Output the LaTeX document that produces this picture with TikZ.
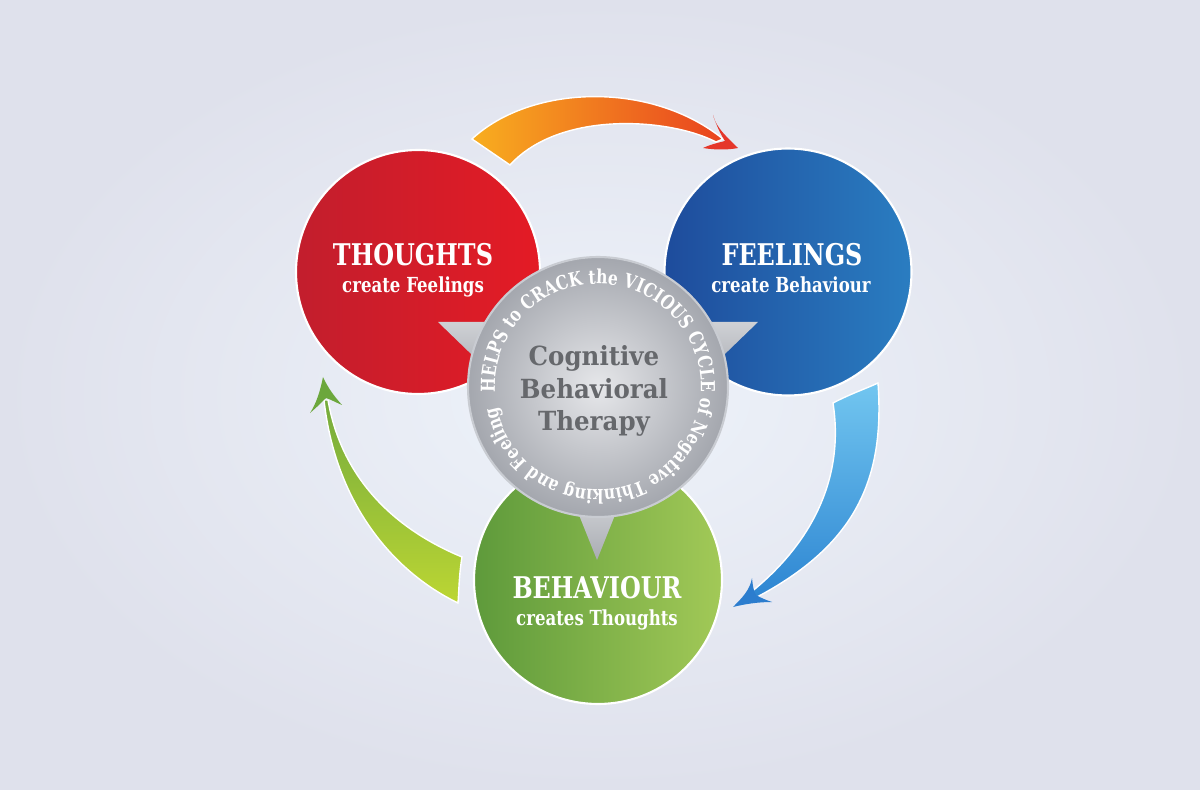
\documentclass[tikz,border=0pt]{standalone}
\usepackage{fontspec}
\setmainfont{DejaVu Serif}
\newfontfamily\headfont[FakeStretch=0.8]{DejaVu Serif}
\newfontfamily\cbtfont[FakeStretch=0.93]{DejaVu Serif}
\usepackage{tikz}
\usetikzlibrary{decorations.text,backgrounds}
\definecolor{bgouter}{HTML}{DFE1EC}
\definecolor{bginner}{HTML}{EEF3FA}
\definecolor{redL}{HTML}{C21E2D}
\definecolor{redR}{HTML}{E41B25}
\definecolor{blueL}{HTML}{1E4C9C}
\definecolor{blueR}{HTML}{2A7DC1}
\definecolor{greenL}{HTML}{5E9A3B}
\definecolor{greenR}{HTML}{A2C957}
\definecolor{grayin}{HTML}{E6E7EA}
\definecolor{grayout}{HTML}{A4A7AE}
\definecolor{grayrim}{HTML}{C9CCD2}
\definecolor{graytext}{HTML}{66686C}
\definecolor{wedgetop}{HTML}{CFD1D5}
\definecolor{wedgebot}{HTML}{A9ACB2}
\definecolor{orangeA}{HTML}{F8AE1F}
\definecolor{orangeB}{HTML}{E9431F}
\definecolor{orangehead}{HTML}{E5362A}
\definecolor{skyA}{HTML}{72C6F0}
\definecolor{skyB}{HTML}{2E86D2}
\definecolor{skyhead}{HTML}{2C7DCE}
\definecolor{limeA}{HTML}{BCD633}
\definecolor{limeB}{HTML}{74AB3D}
\definecolor{limehead}{HTML}{6CA73C}
\newcommand{\rimcolor}{white}
\newcommand{\ringr}{103}

\tikzset{
  bubble/.style={circle, inner sep=0pt, minimum size=#1, draw=\rimcolor, line width=1.2pt},
  headline/.style={text=white, anchor=base, font=\headfont\bfseries\fontsize{17}{19}\selectfont},
  subline/.style={text=white, anchor=base, font=\headfont\bfseries\fontsize{11.8}{13}\selectfont},
  swoosh/.style={draw=\rimcolor, line width=0.8pt},
  wedge/.style={top color=wedgetop, bottom color=wedgebot},
}

\begin{document}
\begin{tikzpicture}[x=0.02cm, y=0.02cm]
\useasboundingbox (0,0) rectangle (1200,-790);
\shade[inner color=bginner, outer color=bgouter] (0,0) rectangle (1200,-790);
%arrows
\shade[swoosh, left color=orangeA, right color=orangeB]
  (472,-139) .. controls (530,-85) and (650,-80) .. (723,-139)
  -- (716,-142) .. controls (670,-118) and (560,-110) .. (510,-165)
  -- cycle;
\fill[orangehead] (738,-148) .. controls (728,-138) and (716,-128) .. (713,-115)
  .. controls (717,-127) and (721,-135) .. (725,-141)
  .. controls (717,-143) and (709,-145) .. (703,-148)
  .. controls (715,-150) and (728,-150) .. (738,-148) -- cycle;
\shade[swoosh, top color=skyA, bottom color=skyB]
  (878,-383) .. controls (885,-480) and (855,-545) .. (757,-597)
  -- (750,-593) .. controls (810,-545) and (845,-480) .. (833,-403)
  .. controls (850,-394) and (865,-389) .. (878,-383) -- cycle;
\fill[skyhead] (733,-607) .. controls (742,-598) and (750,-590) .. (752,-578)
  .. controls (753,-588) and (754,-592) .. (756,-595)
  .. controls (761,-598) and (766,-600) .. (772,-602)
  .. controls (758,-602) and (745,-604) .. (733,-607) -- cycle;
\shade[swoosh, top color=limeB, bottom color=limeA]
  (458,-603) .. controls (390,-570) and (335,-500) .. (324,-400)
  -- (328,-400) .. controls (340,-470) and (385,-525) .. (462,-557)
  .. controls (459,-575) and (459,-590) .. (458,-603) -- cycle;
\fill[limehead] (323,-377) .. controls (320,-392) and (316,-404) .. (310,-413)
  .. controls (317,-407) and (322,-402) .. (326,-398)
  .. controls (332,-400) and (337,-403) .. (342,-405)
  .. controls (334,-396) and (328,-388) .. (323,-377) -- cycle;
%circles
\node[bubble=4.88cm, left color=redL, right color=redR] (thoughts) at (418,-272) {};
\node[bubble=4.94cm, left color=blueL, right color=blueR] (feelings) at (788,-272) {};
\node[bubble=4.96cm, left color=greenL, right color=greenR] (behaviour) at (598,-580) {};
\node[headline] (thoughtshead) at (413,-266) {THOUGHTS};
\node[subline] (thoughtssub) at (413,-293) {create Feelings};
\node[headline] (feelingshead) at (792,-266) {FEELINGS};
\node[subline] (feelingssub) at (791,-293) {create Behaviour};
\node[headline] (behaviourhead) at (597,-598) {BEHAVIOUR};
\node[subline] (behavioursub) at (597,-625) {creates Thoughts};
%cbt
\shade[wedge] (438,-322) -- (500,-322) -- (498,-380) -- cycle;
\shade[wedge] (758,-322) -- (696,-322) -- (698,-380) -- cycle;
\shade[wedge] (597,-560) -- (573,-500) -- (621,-500) -- cycle;
\node[bubble=5.2cm, inner color=grayin, outer color=grayout, draw=grayrim] (cbt) at (598,-387) {};
\node[text=graytext, align=center, font=\cbtfont\bfseries\fontsize{15}{18.7}\selectfont] (cbttext) at (594,-391) {Cognitive\\Behavioral\\Therapy};
\path[decorate, decoration={text along path, text align={fit to path},
  text={|\headfont\bfseries\fontsize{11}{12}\selectfont\color{white}|HELPS to CRACK the VICIOUS CYCLE of Negative Thinking and Feeling}}]
  (cbt.center) ++(183:\ringr) arc[start angle=183, end angle=-169, radius=\ringr];
\end{tikzpicture}
\end{document}
